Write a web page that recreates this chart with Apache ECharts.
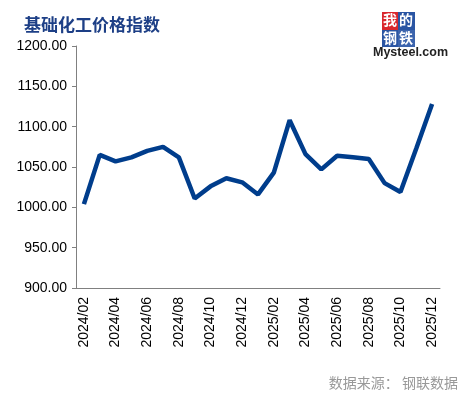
<!DOCTYPE html>
<html>
<head>
<meta charset="utf-8">
<script src="https://cdn.jsdelivr.net/npm/echarts@6/dist/echarts.min.js"></script>
<style>
  html, body { margin: 0; padding: 0; background: #fff; }
  #main { width: 463px; height: 397px; }
</style>
</head>
<body>
<div id="main"></div>
<script>
// 月份
var months = [
    '2024/02', '2024/03', '2024/04', '2024/05', '2024/06', '2024/07', '2024/08',
    '2024/09', '2024/10', '2024/11', '2024/12', '2025/01', '2025/02', '2025/03',
    '2025/04', '2025/05', '2025/06', '2025/07', '2025/08', '2025/09', '2025/10',
    '2025/11', '2025/12'
];
// 基础化工价格指数
var indexValues = [
    1004, 1065, 1057, 1062, 1070, 1075, 1062, 1011, 1026, 1036, 1031, 1016,
    1043, 1108, 1066, 1047, 1064, 1062, 1060, 1030, 1019, 1073, 1128
];
var yTicks = [900, 950, 1000, 1050, 1100, 1150, 1200];

var myChart = echarts.init(document.getElementById('main'));
var option;

option = {
    backgroundColor: '#fff',
    animation: false,
    title: {
        text: '基础化工价格指数',
        left: 19,
        top: 11,
        textStyle: {
            fontFamily: 'Noto Sans CJK SC',
            fontSize: 17,
            fontWeight: 'bold',
            color: '#1d3f86'
        }
    },
    grid: {
        left: 76,
        right: 23,
        top: 46,
        bottom: 109,
        containLabel: false
    },
    xAxis: {
        type: 'category',
        data: months,
        boundaryGap: true,
        axisLine: { lineStyle: { color: '#808080', width: 1 } },
        axisTick: {
            interval: 1,
            length: 5,
            lineStyle: { color: '#808080' }
        },
        axisLabel: {
            interval: 1,
            rotate: 90,
            margin: 9,
            color: '#000',
            fontFamily: 'Liberation Sans',
            fontSize: 14
        }
    },
    yAxis: {
        type: 'value',
        min: yTicks[0],
        max: yTicks[yTicks.length - 1],
        interval: 50,
        splitLine: { show: false },
        axisLine: { show: true, lineStyle: { color: '#808080', width: 1 } },
        axisTick: { show: true, length: 4, lineStyle: { color: '#808080' } },
        axisLabel: {
            margin: 9,
            color: '#000',
            fontFamily: 'Liberation Sans',
            fontSize: 14,
            formatter: function (v) {
                return v.toFixed(2);
            }
        }
    },
    graphic: [
        { type: 'rect', left: 382, top: 12, shape: { width: 16, height: 18 }, style: { fill: '#d9262c' } },
        { type: 'rect', left: 398, top: 12, shape: { width: 17, height: 18 }, style: { fill: '#2a55a3' } },
        { type: 'rect', left: 382, top: 30, shape: { width: 16, height: 17 }, style: { fill: '#2a55a3' } },
        { type: 'rect', left: 398, top: 30, shape: { width: 17, height: 17 }, style: { fill: '#3c64ad' } },
        { type: 'text', left: 383, top: 13, style: { text: '我', fill: '#fff', font: 'bold 14px "Noto Sans CJK SC"' } },
        { type: 'text', left: 399, top: 13, style: { text: '的', fill: '#fff', font: 'bold 14px "Noto Sans CJK SC"' } },
        { type: 'text', left: 383, top: 31, style: { text: '钢', fill: '#fff', font: 'bold 14px "Noto Sans CJK SC"' } },
        { type: 'text', left: 399, top: 31, style: { text: '铁', fill: '#fff', font: 'bold 14px "Noto Sans CJK SC"' } },
        { type: 'text', left: 373, top: 46, style: { text: 'Mysteel.com', fill: '#222', font: 'bold 12.5px "Liberation Sans"' } },
        {
            type: 'text',
            right: 5,
            top: 376,
            style: {
                text: '数据来源： 钢联数据',
                fill: '#999999',
                font: '14px "Noto Sans CJK SC"'
            }
        }
    ],
    series: [{
        name: '基础化工价格指数',
        type: 'line',
        data: indexValues,
        showSymbol: false,
        symbol: 'none',
        lineStyle: { color: '#003d8c', width: 4.5 }
    }]
};

option && myChart.setOption(option);
window.addEventListener('resize', function () {
    myChart.resize();
});
</script>
</body>
</html>
